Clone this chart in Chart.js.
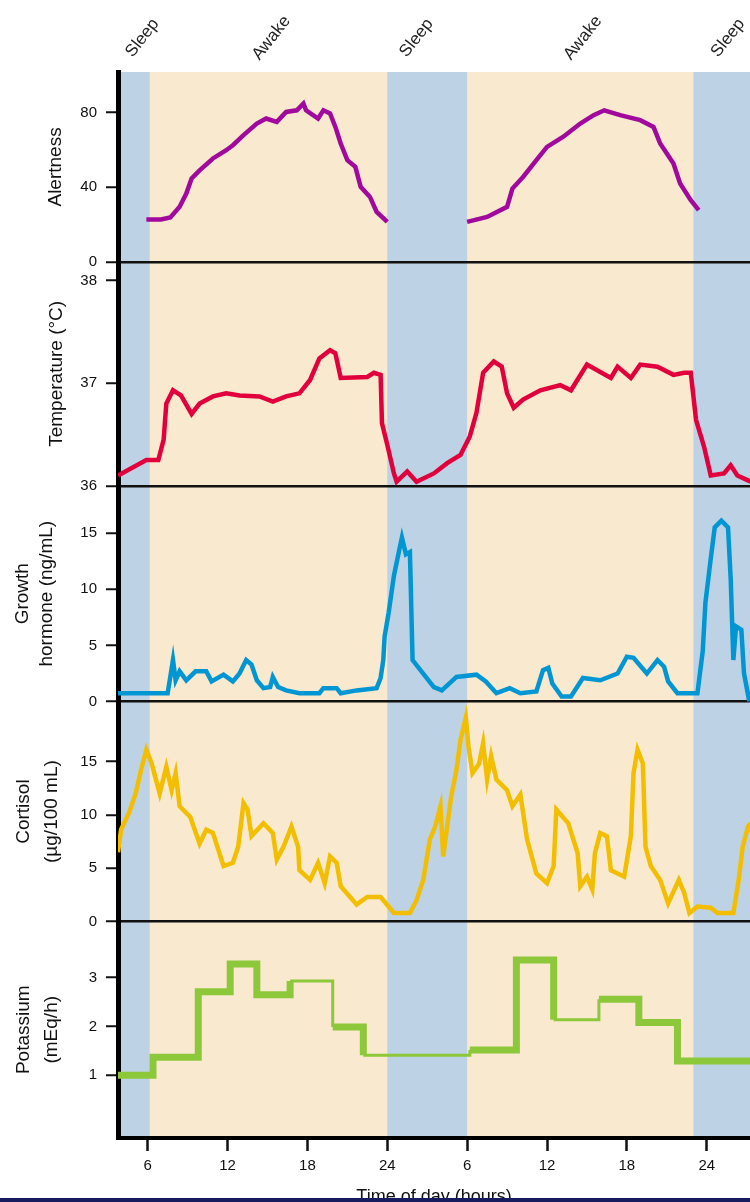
<!DOCTYPE html>
<html>
<head>
<meta charset="utf-8">
<title>Circadian rhythms</title>
<script src="https://cdn.jsdelivr.net/npm/chart.js@4/dist/chart.umd.min.js"></script>
<style>
  html, body { margin: 0; padding: 0; background: #fff; }
  #wrap { position: relative; width: 750px; height: 1202px; overflow: hidden; }
  #strip { position: absolute; left: 0; bottom: 0; width: 750px; height: 4px; background: #161a5e; }
</style>
</head>
<body>
<div id="wrap">
  <canvas id="chart" width="750" height="1202"></canvas>
  <div id="strip"></div>
</div>
<script>
// Time runs continuously over two days: 30 h = 6 a.m. on day two, 48 h = midnight.
const hourTicks = [6, 12, 18, 24, 30, 36, 42, 48];
const hourTickLabels = ['6', '12', '18', '24', '6', '12', '18', '24'];

// Sleep periods [start, end] in hours; the rest of the day is awake.
const sleepPeriods = [[0, 6.15], [24, 30], [47, 54]];
const phaseNames = ['Sleep', 'Awake', 'Sleep', 'Awake', 'Sleep'];
const phaseHours = [5.6, 15.3, 26.2, 38.7, 49.6];

const alertnessTicks = [0, 40, 80];
const temperatureTicks = [36, 37, 38];
const growthHormoneTicks = [0, 5, 10, 15];
const cortisolTicks = [0, 5, 10, 15];
const potassiumTicks = [1, 2, 3];

// [hour, value]
const alertness = [
  [5.9, 22.7], [7.0, 22.7], [7.7, 23.8], [8.4, 29.5], [8.9, 36.6], [9.3, 44.7], [9.9, 49],
  [10.9, 55.4], [11.9, 59.8], [12.4, 62.5], [13.2, 67.9], [14.2, 74.1], [14.9, 76.8],
  [15.7, 75], [16.4, 80.3], [17.2, 81.2], [17.7, 84.8], [17.9, 81.2], [18.8, 76.8],
  [19.2, 81.2], [19.7, 79.5], [20.1, 72.3], [20.5, 63.4], [21.0, 54.5], [21.6, 50.9],
  [22.0, 40.2], [22.7, 34.8], [23.2, 26.8], [24.0, 21.4],
  [27, null],
  [30.0, 21.4], [31.5, 24.1], [33.0, 29.5], [33.4, 39.3], [34.2, 45.5], [35.2, 54.5],
  [36.0, 61.6], [37.2, 66.9], [38.5, 74.1], [39.5, 78.6], [40.3, 81.2], [41.5, 78.6],
  [43.0, 75.9], [44.0, 72.3], [44.5, 63.4], [45.5, 52.7], [46.0, 42], [46.8, 33], [47.4, 27.7]
];

// Body temperature, °C
const temperature = [
  [3.77, 36.1], [5.9, 36.25], [6.8, 36.25], [7.2, 36.45], [7.4, 36.8], [7.9, 36.93],
  [8.5, 36.88], [9.3, 36.7], [9.9, 36.8], [10.9, 36.87], [11.9, 36.9], [12.9, 36.88],
  [14.4, 36.87], [15.4, 36.82], [16.4, 36.87], [17.4, 36.9], [18.2, 37.03], [18.9, 37.24],
  [19.7, 37.32], [20.1, 37.29], [20.5, 37.05], [22.5, 37.06], [23.0, 37.1], [23.5, 37.08],
  [23.6, 36.61], [24.0, 36.4], [24.5, 36.12], [24.7, 36.04], [25.5, 36.14], [26.2, 36.04],
  [27.5, 36.12], [28.5, 36.22], [29.5, 36.3], [30.2, 36.48], [30.7, 36.71], [31.2, 37.1],
  [32.0, 37.21], [32.6, 37.16], [33.0, 36.9], [33.5, 36.76], [34.2, 36.84], [35.5, 36.93],
  [37.0, 36.98], [37.8, 36.93], [39.0, 37.18], [40.8, 37.05], [41.3, 37.16], [42.3, 37.05],
  [43.0, 37.18], [44.3, 37.16], [45.5, 37.08], [46.3, 37.1], [46.8, 37.1], [47.2, 36.64],
  [47.8, 36.38], [48.3, 36.1], [49.3, 36.12], [49.8, 36.2], [50.3, 36.1], [51.3, 36.04]
];

// Growth hormone, ng/mL
const growthHormone = [
  [3.77, 0.75], [7.5, 0.75], [7.7, 2.2], [7.9, 3.7], [8.1, 1.9], [8.4, 2.7], [8.9, 1.9],
  [9.6, 2.7], [10.4, 2.7], [10.8, 1.8], [11.7, 2.4], [12.4, 1.8], [12.9, 2.5], [13.4, 3.7],
  [13.8, 3.3], [14.2, 1.9], [14.7, 1.2], [15.2, 1.3], [15.4, 2.2], [15.8, 1.3], [16.4, 1.0],
  [17.4, 0.75], [18.9, 0.75], [19.2, 1.2], [20.2, 1.2], [20.5, 0.75], [21.7, 1.0], [23.2, 1.2],
  [23.5, 2.1], [23.7, 3.7], [23.8, 5.8], [24.1, 7.9], [24.5, 11.2], [24.9, 13.5], [25.1, 14.6],
  [25.4, 13.1], [25.7, 13.3], [25.9, 3.7], [26.7, 2.5], [27.5, 1.3], [28.1, 1.0], [29.2, 2.2],
  [30.7, 2.4], [31.4, 1.8], [32.2, 0.75], [33.2, 1.2], [34.0, 0.75], [35.2, 0.9], [35.7, 2.8],
  [36.1, 3.0], [36.4, 1.6], [37.1, 0.45], [37.8, 0.45], [38.7, 2.1], [40.0, 1.9], [41.3, 2.5],
  [42.0, 4.0], [42.5, 3.9], [43.5, 2.5], [44.3, 3.7], [44.8, 3.1], [45.1, 1.8], [45.8, 0.75],
  [47.3, 0.75], [47.7, 4.5], [47.9, 8.8], [48.3, 12.7], [48.6, 15.5], [49.1, 16.1], [49.6, 15.5],
  [49.8, 10.9], [50.0, 3.7], [50.2, 6.7], [50.6, 6.4], [50.8, 2.5], [51.2, 0]
];

// Cortisol, µg/100 mL
const cortisol = [
  [3.77, 6.5], [4.0, 8.6], [4.6, 10.2], [5.1, 12.0], [5.5, 14.2], [5.9, 16.1], [6.3, 14.8],
  [6.9, 12.0], [7.4, 14.5], [7.8, 12.3], [8.1, 13.9], [8.4, 10.8], [9.2, 9.8], [9.9, 7.3],
  [10.4, 8.6], [10.9, 8.3], [11.7, 5.2], [12.4, 5.5], [12.8, 7.0], [13.2, 11.1], [13.5, 10.5],
  [13.8, 8.0], [14.7, 9.2], [15.4, 8.3], [15.7, 5.8], [16.2, 7.0], [16.8, 8.9], [17.3, 7.0],
  [17.4, 4.8], [18.2, 3.9], [18.8, 5.5], [19.3, 3.6], [19.7, 6.1], [20.2, 5.5], [20.5, 3.3],
  [21.7, 1.6], [22.5, 2.3], [23.5, 2.3], [24.5, 0.8], [25.7, 0.8], [26.2, 2.0], [26.7, 3.9],
  [27.2, 7.7], [27.6, 8.9], [28.0, 10.8], [28.2, 6.1], [28.5, 8.9], [28.8, 11.7], [29.2, 14.2],
  [29.5, 17.0], [29.9, 19.1], [30.1, 16.4], [30.4, 13.9], [30.9, 14.8], [31.2, 16.7],
  [31.5, 13.3], [31.8, 15.5], [32.2, 13.3], [33.0, 12.3], [33.4, 10.8], [34.0, 11.9],
  [34.5, 7.7], [35.2, 4.5], [36.0, 3.6], [36.5, 5.2], [36.7, 10.5], [37.6, 9.2], [38.3, 6.4],
  [38.5, 3.3], [39.0, 4.2], [39.4, 3.0], [39.6, 6.4], [40.0, 8.3], [40.5, 8.0], [40.8, 4.8],
  [41.8, 4.2], [42.3, 8.0], [42.5, 13.9], [42.8, 16.1], [43.2, 14.8], [43.4, 7.0], [43.8, 5.2],
  [44.5, 3.9], [45.1, 1.7], [45.9, 3.9], [46.3, 2.7], [46.7, 0.8], [47.3, 1.4], [48.3, 1.3],
  [48.8, 0.8], [50.0, 0.8], [50.4, 3.9], [50.7, 7.0], [51.1, 8.9], [51.3, 9.2]
];

// Potassium excretion, mEq/h; each entry starts a collection period
const potassium = [
  [3.77, 1.0], [6.4, 1.37], [9.8, 2.71], [12.2, 3.28], [14.2, 2.65], [16.7, 2.93],
  [19.9, 1.99], [22.2, 1.41], [30.2, 1.52], [33.7, 3.36], [36.5, 2.14], [39.9, 2.56],
  [42.9, 2.08], [45.8, 1.29], [52, 1.29]
];

const FONT = "'Liberation Sans', Arial, Helvetica, sans-serif";
const INK = '#111';
const SLEEP_FILL = '#bdd2e5';
const AWAKE_FILL = '#f8e9cf';
const thinPotassiumSteps = new Set([5, 7, 10]);

const toPoints = pairs => pairs.map(([x, y]) => ({ x, y }));
const fixedTicks = values => scale => { scale.ticks = values.map(v => ({ value: v })); };

function panelAxis({ min, max, ticks, title, share, order, lineHeight }) {
  return {
    type: 'linear',
    position: 'left',
    stack: 'panels',
    stackWeight: share,
    weight: order,
    min, max,
    afterBuildTicks: fixedTicks(ticks),
    afterFit: scale => { scale.width = 118; },
    ticks: { font: { family: FONT, size: 15 }, color: INK, padding: 9 },
    grid: {
      drawOnChartArea: true,
      color: ctx => (ctx.tick && ctx.tick.value === min) ? INK : 'rgba(0,0,0,0)',
      lineWidth: 2.5,
      tickLength: 12,
      tickWidth: 2,
      tickColor: INK
    },
    border: { display: true, color: '#000', width: 5 },
    title: {
      display: true,
      text: title,
      color: INK,
      font: { family: FONT, size: 19, lineHeight: lineHeight || 1.3 },
      padding: { top: 10, bottom: 0 }
    }
  };
}

const phaseBands = {
  id: 'phaseBands',
  beforeDraw(chart) {
    const { ctx, chartArea: a, scales: { x } } = chart;
    ctx.save();
    ctx.fillStyle = AWAKE_FILL;
    ctx.fillRect(a.left, a.top, a.right - a.left, a.bottom - a.top);
    ctx.fillStyle = SLEEP_FILL;
    for (const [start, end] of sleepPeriods) {
      const l = Math.max(a.left, x.getPixelForValue(start));
      const r = Math.min(a.right, x.getPixelForValue(end));
      if (r > l) ctx.fillRect(l, a.top, r - l, a.bottom - a.top);
    }
    ctx.restore();
  },
  afterDraw(chart) {
    const { ctx, chartArea: a, scales: { x } } = chart;
    ctx.save();
    ctx.font = `17px ${FONT}`;
    ctx.fillStyle = '#222';
    ctx.textAlign = 'center';
    ctx.textBaseline = 'middle';
    phaseNames.forEach((name, i) => {
      ctx.save();
      ctx.translate(x.getPixelForValue(phaseHours[i]), a.top - 34);
      ctx.rotate(-52 * Math.PI / 180);
      ctx.fillText(name, 0, 0);
      ctx.restore();
    });
    ctx.restore();
  }
};

const lineStyle = { pointRadius: 0, borderWidth: 4.5, tension: 0, spanGaps: false, fill: false,
                    borderJoinStyle: 'miter', borderCapStyle: 'butt' };

new Chart(document.getElementById('chart'), {
  type: 'line',
  data: {
    datasets: [
      { ...lineStyle, label: 'Alertness', data: toPoints(alertness), yAxisID: 'yAlert', borderColor: '#a1099c' },
      { ...lineStyle, label: 'Temperature', data: toPoints(temperature), yAxisID: 'yTemp', borderColor: '#e2003c' },
      { ...lineStyle, label: 'Growth hormone', data: toPoints(growthHormone), yAxisID: 'yGH', borderColor: '#0096d4' },
      { ...lineStyle, label: 'Cortisol', data: toPoints(cortisol), yAxisID: 'yCort', borderColor: '#f3be00' },
      { ...lineStyle, label: 'Potassium', data: toPoints(potassium), yAxisID: 'yK', borderColor: '#8cc83a',
        stepped: true, borderWidth: 7,
        segment: { borderWidth: ctx => thinPotassiumSteps.has(ctx.p0DataIndex) ? 3 : 7 } }
    ]
  },
  options: {
    responsive: false,
    devicePixelRatio: 1,
    animation: false,
    layout: { padding: { top: 72, left: 0, right: 0, bottom: 0 } },
    plugins: { legend: { display: false }, tooltip: { enabled: false } },
    scales: {
      x: {
        type: 'linear',
        position: 'bottom',
        min: 3.77,
        max: 51.25,
        afterBuildTicks: fixedTicks(hourTicks),
        afterFit: scale => { scale.height = 64; },
        ticks: { font: { family: FONT, size: 15 }, color: INK, padding: 6, maxRotation: 0,
                 autoSkip: false, callback: (v, i) => hourTickLabels[i] },
        grid: { drawOnChartArea: false, tickLength: 13, tickWidth: 2.5, tickColor: INK, color: INK },
        border: { color: '#000', width: 4 },
        title: { display: true, text: 'Time of day (hours)', color: INK,
                 font: { family: FONT, size: 18 }, padding: { top: 0, bottom: -6 } }
      },
      yAlert: panelAxis({ min: 0, max: 101.7, ticks: alertnessTicks, title: ['', 'Alertness'],
                          share: 190, order: 5, lineHeight: 1.6 }),
      yTemp: panelAxis({ min: 36, max: 38.18, ticks: temperatureTicks, title: ['', 'Temperature (°C)'],
                         share: 224, order: 4, lineHeight: 1.65 }),
      yGH: panelAxis({ min: 0, max: 19.2, ticks: growthHormoneTicks, title: ['Growth', 'hormone (ng/mL)'],
                       share: 216, order: 3 }),
      yCort: panelAxis({ min: 0, max: 20.6, ticks: cortisolTicks, title: ['Cortisol', '(µg/100 mL)'],
                         share: 220, order: 2, lineHeight: 1.45 }),
      yK: panelAxis({ min: -0.285, max: 4.15, ticks: potassiumTicks, title: ['Potassium', '(mEq/h)'],
                      share: 216.6, order: 1, lineHeight: 1.45 })
    }
  },
  plugins: [phaseBands]
});
</script>
</body>
</html>
